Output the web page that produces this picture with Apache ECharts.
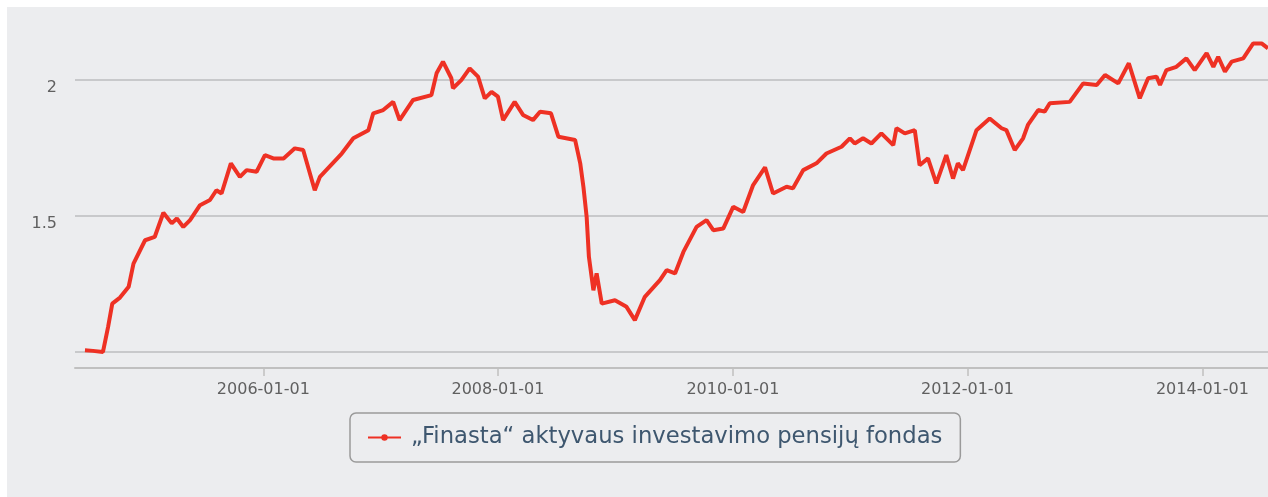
<!DOCTYPE html>
<html>
<head>
<meta charset="utf-8">
<script src="https://cdn.jsdelivr.net/npm/echarts@6/dist/echarts.min.js"></script>
<style>
html,body{margin:0;padding:0;background:#fff;}
#chart{width:1268px;height:497px;}
</style>
</head>
<body>
<div id="chart"></div>
<script>
// fondo vieneto vertė
var seriesName = '„Finasta“ aktyvaus investavimo pensijų fondas';
var dates = [
	'2004-06-25','2004-07-20','2004-08-20','2004-09-05','2004-09-18','2004-10-12','2004-11-08','2004-11-23','2004-12-29',
	'2005-01-28','2005-02-24','2005-03-22','2005-04-07','2005-04-27','2005-05-18','2005-06-18','2005-07-19','2005-08-08',
	'2005-08-24','2005-09-22','2005-10-20','2005-11-10','2005-12-11',
	'2006-01-06','2006-02-01','2006-03-05','2006-04-09','2006-05-05','2006-06-10','2006-06-26','2006-09-02','2006-10-08',
	'2006-11-24','2006-12-09',
	'2007-01-09','2007-02-09','2007-03-01','2007-04-12','2007-06-08','2007-06-24','2007-07-14','2007-08-09','2007-08-14',
	'2007-09-09','2007-10-05','2007-10-31','2007-11-21','2007-12-12',
	'2008-01-01','2008-01-17','2008-02-22','2008-03-19','2008-04-19','2008-05-11','2008-06-14','2008-07-07','2008-08-28',
	'2008-09-13','2008-09-23','2008-10-03','2008-10-10','2008-10-24','2008-11-03','2008-11-19','2008-12-30',
	'2009-02-04','2009-03-02','2009-04-02','2009-05-19','2009-06-09','2009-07-05','2009-07-31','2009-09-10','2009-10-11',
	'2009-11-01','2009-12-02',
	'2010-01-02','2010-02-02','2010-03-05','2010-04-11','2010-05-06','2010-06-17','2010-07-07','2010-08-08','2010-09-18',
	'2010-10-19','2010-12-05','2010-12-31',
	'2011-01-15','2011-02-10','2011-03-08','2011-04-08','2011-05-15','2011-05-25','2011-06-20','2011-07-21','2011-08-05',
	'2011-08-31','2011-09-26','2011-10-27','2011-11-17','2011-12-02','2011-12-18',
	'2012-01-29','2012-03-10','2012-04-16','2012-05-01','2012-05-27','2012-06-22','2012-07-07','2012-08-08','2012-08-28',
	'2012-09-13','2012-11-14','2012-12-26',
	'2013-02-06','2013-03-04','2013-04-14','2013-05-17','2013-06-20','2013-07-16','2013-08-11','2013-08-22','2013-09-11',
	'2013-10-12','2013-11-12','2013-12-08',
	'2014-01-14','2014-02-04','2014-02-19','2014-03-12','2014-04-02','2014-05-08','2014-06-08','2014-07-04','2014-07-24'
];
var values = [
	1.006,1.004,1.0,1.092,1.178,1.2,1.24,1.325,1.411,
	1.423,1.512,1.473,1.491,1.46,1.485,1.54,1.559,1.595,
	1.583,1.694,1.644,1.669,1.663,
	1.724,1.712,1.712,1.749,1.743,1.595,1.644,1.73,1.786,
	1.816,1.878,
	1.89,1.92,1.853,1.927,1.945,2.025,2.068,2.007,1.97,
	2.0,2.043,2.013,1.933,1.957,
	1.939,1.853,1.92,1.872,1.853,1.884,1.878,1.792,1.78,
	1.694,1.607,1.497,1.35,1.227,1.289,1.178,1.19,
	1.166,1.117,1.203,1.264,1.301,1.289,1.368,1.46,1.485,
	1.448,1.454,
	1.534,1.515,1.614,1.679,1.583,1.608,1.602,1.669,1.694,
	1.73,1.755,1.786,
	1.767,1.786,1.767,1.804,1.761,1.823,1.804,1.816,1.687,
	1.712,1.62,1.724,1.638,1.694,1.669,
	1.816,1.859,1.823,1.816,1.743,1.786,1.835,1.89,1.884,
	1.915,1.92,1.988,
	1.982,2.019,1.988,2.062,1.933,2.007,2.013,1.982,2.037,
	2.049,2.08,2.037,
	2.099,2.049,2.086,2.031,2.068,2.08,2.135,2.135,2.117
];
var xTickDates = ['2006-01-01','2008-01-01','2010-01-01','2012-01-01','2014-01-01'];
var yLabelValues = [1.5, 2];
var yGridValues = [1, 1.5, 2];

function toTime(s){
	var p = s.split('-');
	return new Date(+p[0], +p[1] - 1, +p[2]).getTime();
}
var lineData = [];
for (var i = 0; i < dates.length; i++) {
	lineData.push([toTime(dates[i]), values[i]]);
}
var xTicks = xTickDates.map(toTime);

var chart = echarts.init(document.getElementById('chart'));
var option = {
	animation: false,
	backgroundColor: '#ffffff',
	graphic: [{
		type: 'rect',
		left: 7, top: 7,
		shape: {width: 1261, height: 490},
		style: {fill: '#ecedef'},
		z: -10
	}],
	grid: {left: 75, right: 0, top: 10, bottom: 129},
	legend: {
		left: 350, top: 413,
		padding: [13, 18, 13, 17],
		borderColor: '#9a9a9a',
		borderWidth: 1.5,
		borderRadius: 6,
		itemWidth: 33, itemHeight: 8,
		textStyle: {fontFamily: 'DejaVu Sans', fontSize: 22.7, color: '#3e576f', padding: [0, 0, 0, 5]},
		data: [seriesName]
	},
	xAxis: {
		type: 'value',
		min: toTime('2004-05-25'),
		max: toTime('2014-07-24'),
		axisLine: {lineStyle: {color: '#c0c0c0', width: 2}},
		axisTick: {customValues: xTicks, length: 8, lineStyle: {color: '#c0c0c0', width: 1.5}},
		axisLabel: {
			customValues: xTicks,
			margin: 14,
			fontFamily: 'DejaVu Sans', fontSize: 16, color: '#606060',
			formatter: function (v) { return echarts.time.format(v, '{yyyy}-{MM}-{dd}', false); }
		},
		splitLine: {show: false}
	},
	yAxis: {
		type: 'value',
		min: 0.941, max: 2.258,
		axisLine: {show: false},
		axisTick: {show: false, customValues: yGridValues},
		axisLabel: {
			customValues: yLabelValues,
			margin: 18,
			verticalAlign: 'top',
			fontFamily: 'DejaVu Sans', fontSize: 16, color: '#606060'
		},
		splitLine: {lineStyle: {color: '#c8c9cb', width: 2}}
	},
	series: [{
		name: seriesName,
		type: 'line',
		data: lineData,
		showSymbol: false,
		symbol: 'circle',
		symbolSize: 5,
		color: '#ee3124',
		lineStyle: {width: 4, color: '#ee3124'}
	}]
};
chart.setOption(option);
</script>
</body>
</html>
